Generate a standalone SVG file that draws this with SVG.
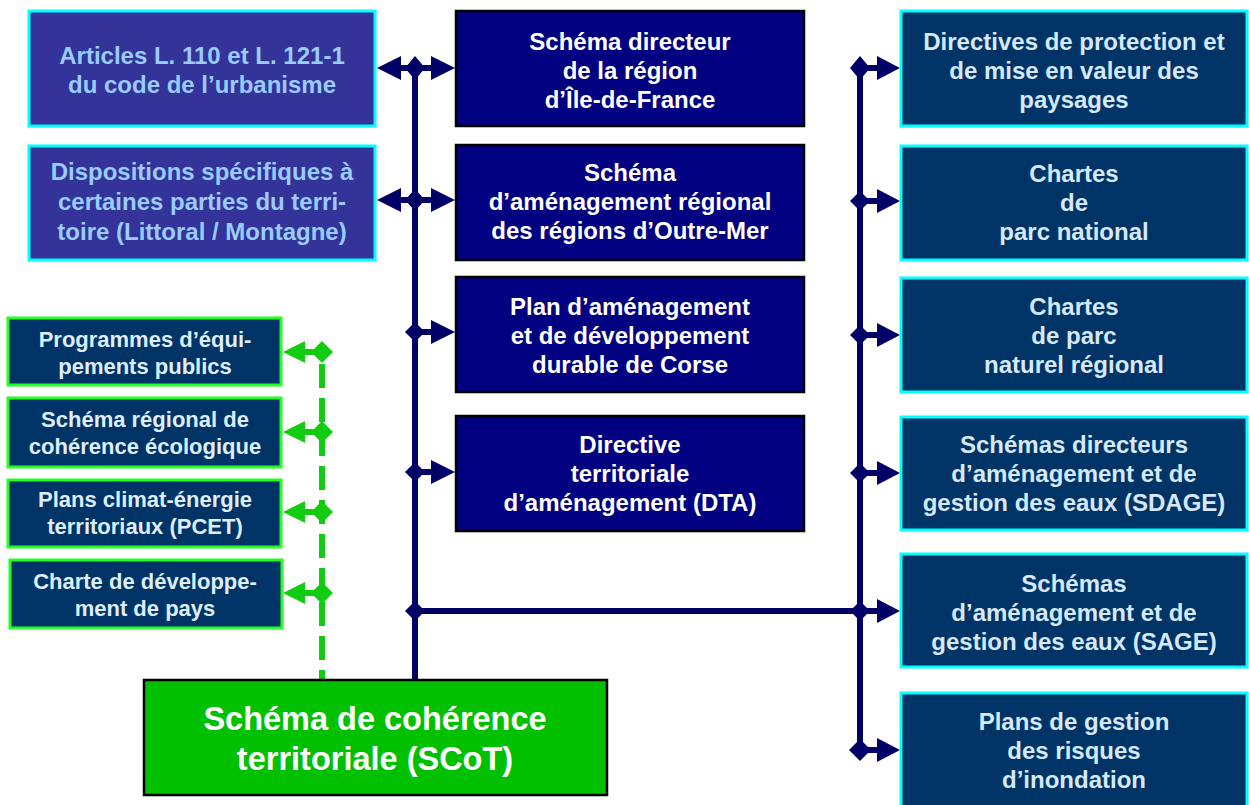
<svg xmlns="http://www.w3.org/2000/svg" width="1249" height="805" viewBox="0 0 1249 805">
<style>
text{font-family:"Liberation Sans",Arial,sans-serif;font-weight:bold;text-anchor:middle}
.lt rect{fill:#333399;stroke:#00ffff;stroke-width:3}
.lt text{fill:#99ccff;font-size:24px}
.ct rect{fill:#000080;stroke:#000000;stroke-width:2.5}
.ct text{fill:#ffffff;font-size:24px}
.rt rect{fill:#003366;stroke:#00ffff;stroke-width:3}
.rt text{fill:#d6e9fb;font-size:24px}
.gr rect{fill:#003366;stroke:#22ff22;stroke-width:3}
.gr text{fill:#dfeeff;font-size:22px}
.sc rect{fill:#00c000;stroke:#000000;stroke-width:2.5}
.sc text{fill:#ffffff;font-size:32.5px}
.nv{stroke:#000066;stroke-width:6;fill:none}
.nvf{fill:#000066}
.gn{stroke:#11cc11;stroke-width:6;fill:none}
.gnf{fill:#11cc11}
</style>
<rect width="1249" height="805" fill="#ffffff"/>

<g id="connectors">
  <line class="nv" x1="415" y1="62" x2="415" y2="679"/>
  <line class="nv" x1="860" y1="62" x2="860" y2="752"/>
  <line class="nv" x1="396" y1="68" x2="436" y2="68"/>
  <line class="nv" x1="396" y1="200" x2="436" y2="200"/>
  <polygon class="nvf" points="377,68 401,56 401,80"/>
  <polygon class="nvf" points="455,68 431,56 431,80"/>
  <polygon class="nvf" points="415,56 425,68 415,80 405,68"/>
  <polygon class="nvf" points="377,200 401,188 401,212"/>
  <polygon class="nvf" points="455,200 431,188 431,212"/>
  <polygon class="nvf" points="415,189 425,200 415,211 405,200"/>
  <line class="nv" x1="415" y1="332" x2="436" y2="332"/>
  <polygon class="nvf" points="455,332 431,320 431,344"/>
  <polygon class="nvf" points="415,322 425,332 415,342 405,332"/>
  <line class="nv" x1="415" y1="472" x2="436" y2="472"/>
  <polygon class="nvf" points="455,472 431,460 431,484"/>
  <polygon class="nvf" points="415,462 425,472 415,482 405,472"/>
  <line class="nv" x1="415" y1="611" x2="882" y2="611"/>
  <polygon class="nvf" points="415,601 425,611 415,621 405,611"/>
  <g>
    <line class="nv" x1="860" y1="68" x2="882" y2="68"/>
    <polygon class="nvf" points="900,68 877,56 877,80"/>
    <polygon class="nvf" points="860,56 870,68 860,80 850,68"/>
    <line class="nv" x1="860" y1="201" x2="882" y2="201"/>
    <polygon class="nvf" points="900,201 877,189 877,213"/>
    <polygon class="nvf" points="860,191 870,201 860,211 850,201"/>
    <line class="nv" x1="860" y1="335" x2="882" y2="335"/>
    <polygon class="nvf" points="900,335 877,323 877,347"/>
    <polygon class="nvf" points="860,325 870,335 860,345 850,335"/>
    <line class="nv" x1="860" y1="473" x2="882" y2="473"/>
    <polygon class="nvf" points="900,473 877,461 877,485"/>
    <polygon class="nvf" points="860,463 870,473 860,483 850,473"/>
    <polygon class="nvf" points="900,611 877,599 877,623"/>
    <polygon class="nvf" points="860,601 870,611 860,621 850,611"/>
    <line class="nv" x1="860" y1="750" x2="882" y2="750"/>
    <polygon class="nvf" points="900,750 877,738 877,762"/>
    <polygon class="nvf" points="860,739 871,750 860,761 849,750"/>
  </g>
  <line class="gn" x1="322" y1="364" x2="322" y2="679" stroke-dasharray="24 10"/>
  <g>
    <line class="gn" x1="300" y1="352" x2="322" y2="352"/>
    <polygon class="gnf" points="283,352 305,341 305,363"/>
    <polygon class="gnf" points="322,341 333,352 322,363 311,352"/>
    <line class="gn" x1="300" y1="432" x2="322" y2="432"/>
    <polygon class="gnf" points="283,432 305,421 305,443"/>
    <polygon class="gnf" points="322,421 333,432 322,443 311,432"/>
    <line class="gn" x1="300" y1="512" x2="322" y2="512"/>
    <polygon class="gnf" points="283,512 305,501 305,523"/>
    <polygon class="gnf" points="322,501 333,512 322,523 311,512"/>
    <line class="gn" x1="300" y1="593" x2="322" y2="593"/>
    <polygon class="gnf" points="283,593 305,582 305,604"/>
    <polygon class="gnf" points="322,582 333,593 322,604 311,593"/>
  </g>
</g>

<g id="n-articles" class="lt">
  <rect x="29" y="11" width="346" height="115"/>
  <text x="202" y="64">Articles L. 110 et L. 121-1</text>
  <text x="202" y="93">du code de l’urbanisme</text>
</g>
<g id="n-dispositions" class="lt">
  <rect x="29" y="146" width="346" height="114"/>
  <text x="202" y="180">Dispositions spécifiques à</text>
  <text x="202" y="210">certaines parties du terri-</text>
  <text x="202" y="240">toire (Littoral / Montagne)</text>
</g>

<g id="n-sdrif" class="ct">
  <rect x="456" y="11" width="348" height="115"/>
  <text x="630" y="50">Schéma directeur</text>
  <text x="630" y="79">de la région</text>
  <text x="630" y="108">d’Île-de-France</text>
</g>
<g id="n-sar" class="ct">
  <rect x="456" y="145" width="348" height="115"/>
  <text x="630" y="181">Schéma</text>
  <text x="630" y="210">d’aménagement régional</text>
  <text x="630" y="239">des régions d’Outre-Mer</text>
</g>
<g id="n-padduc" class="ct">
  <rect x="456" y="277" width="348" height="115"/>
  <text x="630" y="315">Plan d’aménagement</text>
  <text x="630" y="344">et de développement</text>
  <text x="630" y="373">durable de Corse</text>
</g>
<g id="n-dta" class="ct">
  <rect x="456" y="416" width="348" height="115"/>
  <text x="630" y="453">Directive</text>
  <text x="630" y="482">territoriale</text>
  <text x="630" y="511">d’aménagement (DTA)</text>
</g>

<g id="n-paysages" class="rt">
  <rect x="901" y="11" width="346" height="115"/>
  <text x="1074" y="50">Directives de protection et</text>
  <text x="1074" y="79">de mise en valeur des</text>
  <text x="1074" y="108">paysages</text>
</g>
<g id="n-parc-national" class="rt">
  <rect x="901" y="146" width="346" height="114"/>
  <text x="1074" y="182">Chartes</text>
  <text x="1074" y="211">de</text>
  <text x="1074" y="240">parc national</text>
</g>
<g id="n-pnr" class="rt">
  <rect x="901" y="278" width="346" height="114"/>
  <text x="1074" y="315">Chartes</text>
  <text x="1074" y="344">de parc</text>
  <text x="1074" y="373">naturel régional</text>
</g>
<g id="n-sdage" class="rt">
  <rect x="901" y="417" width="346" height="113"/>
  <text x="1074" y="453">Schémas directeurs</text>
  <text x="1074" y="482">d’aménagement et de</text>
  <text x="1074" y="511">gestion des eaux (SDAGE)</text>
</g>
<g id="n-sage" class="rt">
  <rect x="901" y="554" width="346" height="113"/>
  <text x="1074" y="592">Schémas</text>
  <text x="1074" y="621">d’aménagement et de</text>
  <text x="1074" y="650">gestion des eaux (SAGE)</text>
</g>
<g id="n-pgri" class="rt">
  <rect x="901" y="693" width="346" height="125"/>
  <text x="1074" y="730">Plans de gestion</text>
  <text x="1074" y="759">des risques</text>
  <text x="1074" y="788">d’inondation</text>
</g>

<g id="n-programmes" class="gr">
  <rect x="8" y="318" width="273" height="67"/>
  <text x="145" y="347">Programmes d’équi-</text>
  <text x="145" y="374">pements publics</text>
</g>
<g id="n-srce" class="gr">
  <rect x="8" y="398" width="273" height="69"/>
  <text x="145" y="427">Schéma régional de</text>
  <text x="145" y="454">cohérence écologique</text>
</g>
<g id="n-pcet" class="gr">
  <rect x="8" y="480" width="273" height="67"/>
  <text x="145" y="507">Plans climat-énergie</text>
  <text x="145" y="534">territoriaux (PCET)</text>
</g>
<g id="n-charte-pays" class="gr">
  <rect x="10" y="560" width="272" height="68"/>
  <text x="145" y="589">Charte de développe-</text>
  <text x="145" y="616">ment de pays</text>
</g>

<g id="n-scot" class="sc">
  <rect x="144" y="680" width="463" height="115"/>
  <text x="375" y="730">Schéma de cohérence</text>
  <text x="375" y="770">territoriale (SCoT)</text>
</g>
</svg>
